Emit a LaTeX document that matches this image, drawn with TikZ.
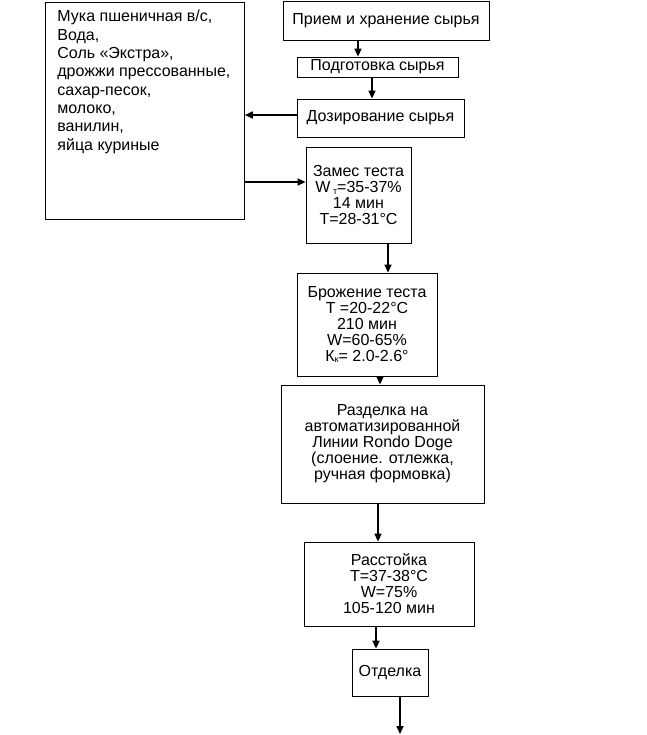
\documentclass[tikz,border=0pt]{standalone}
\usepackage{fontspec}
\setmainfont{Liberation Sans}
\usetikzlibrary{arrows.meta}

\begin{document}
\begin{tikzpicture}[x=1pt,y=-1pt]
        \useasboundingbox (0,0) rectangle (646,735);
        \begin{scope}[every node/.style={draw=black,line width=0.8pt,align=center,inner sep=0pt,font=\fontsize{16}{16}\selectfont}]
          \node[anchor=north west,inner xsep=12pt,inner ysep=8pt,align=left] (sostav) at (45,2)
            {\parbox[t][201pt][t]{175pt}{\fontsize{16}{18.3}\selectfont
             Мука пшеничная в/с,\\ Вода,\\ Соль «Экстра»,\\ дрожжи прессованные,\\
             сахар-песок,\\ молоко,\\ ванилин,\\ яйца куриные}};
          \node[minimum width=206pt,minimum height=39pt] (priem) at (386,20.5) {Прием и хранение сырья};
          \node[minimum width=161pt,minimum height=20pt] (podgot) at (377.5,67) {Подготовка сырья};
          \node[minimum width=167pt,minimum height=38pt] (doz) at (380.5,118) {Дозирование сырья};
          \node[minimum width=105pt,minimum height=96pt] (zames) at (358.5,195)
            {Замес теста\\ W\,\raisebox{-1.5pt}{\fontsize{9}{9}\selectfont т}=35-37\%\\ 14 мин\\ Т=28-31°С};
          \node[minimum width=140pt,minimum height=103pt] (brozh) at (367,324.5)
            {Брожение теста\\ Т =20-22°С\\ 210 мин\\ W=60-65\%\\ К\raisebox{-1.5pt}{\fontsize{9}{9}\selectfont к}= 2.0-2.6°};
          \node[minimum width=203pt,minimum height=118pt] (razd) at (382.5,444)
            {Разделка на\\ автоматизированной\\ Линии Rondo Doge\\ (слоение. отлежка,\\ ручная формовка)};
          \node[minimum width=170pt,minimum height=84pt] (rasst) at (389,584)
            {Расстойка\\ Т=37-38°С\\ W=75\%\\ 105-120 мин};
          \node[minimum width=76pt,minimum height=47pt] (otdel) at (390,672.5) {Отделка};
        \end{scope}
        \coordinate (vyhod) at (400,734);
        \begin{scope}[every edge/.style={draw=black,line width=1.6pt,-{Triangle[length=8pt,width=7pt]}}]
          \path ([xshift=-28pt]priem.south) edge ([xshift=-19.5pt]podgot.north);
          \path ([xshift=-5.5pt]podgot.south) edge ([xshift=-8.5pt]doz.north);
          \path ([yshift=3pt]doz.west) edge ([yshift=3pt]doz.west -| sostav.east);
          \path ([yshift=13pt]zames.west -| sostav.east) edge ([yshift=13pt]zames.west);
          \path ([xshift=29.5pt]zames.south) edge ([xshift=21pt]brozh.north);
          \path ([xshift=13pt]brozh.south) edge ([xshift=-2.5pt]razd.north);
          \path ([xshift=-4.5pt]razd.south) edge ([xshift=-11pt]rasst.north);
          \path ([xshift=-13pt]rasst.south) edge ([xshift=-14pt]otdel.north);
          \path ([xshift=10pt]otdel.south) edge (vyhod);
        \end{scope}
\end{tikzpicture}
\end{document}
